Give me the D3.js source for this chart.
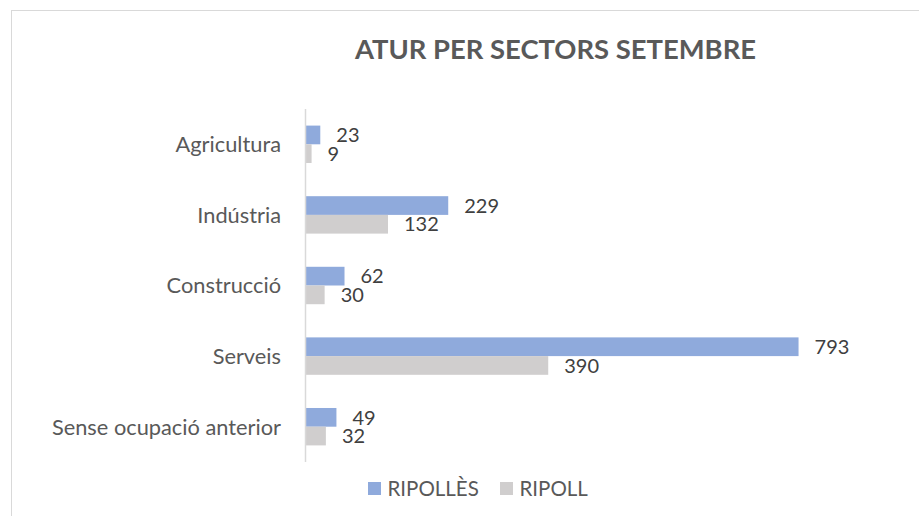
<!DOCTYPE html>
<html lang="ca">
<head>
    <meta charset="UTF-8">
    <title>Atur per sectors setembre</title>
    <style>
        body{
            margin: 0;
            background: #fff;
            font-family: Lato, "Open Sans", sans-serif;
        }
    </style>
    <script src="https://d3js.org/d3.v7.min.js"></script>
</head>
<body>
    <script>
        var sectors = ["Agricultura", "Indústria", "Construcció", "Serveis", "Sense ocupació anterior"];
        var seriesNames = ["RIPOLLÈS", "RIPOLL"];
        var ripolles = [23, 229, 62, 793, 49];
        var ripoll = [9, 132, 30, 390, 32];
        var colors = ["#8FAADC", "#D0CECE"];

        var width = 919,
            height = 516;

        var svg = d3.select("body")
            .append("svg")
            .attr("width", width)
            .attr("height", height);

        // chart frame (runs off the right and bottom edge)
        svg.append("rect")
            .attr("x", 11.5)
            .attr("y", 10.5)
            .attr("width", 1000)
            .attr("height", 600)
            .attr("fill", "#fff")
            .attr("stroke", "#D9D9D9");

        svg.append("text")
            .attr("x", 555.5)
            .attr("y", 59)
            .attr("text-anchor", "middle")
            .style("font-size", "27.4px")
            .style("font-weight", "bold")
            .style("fill", "#595959")
            .text("ATUR PER SECTORS SETEMBRE");

        var y = d3.scaleBand().domain(sectors).range([109, 462]).paddingInner(0.47).paddingOuter(0.235);
        var ySub = d3.scaleBand().domain(seriesNames).range([0, y.bandwidth()]);
        var x = d3.scaleLinear().domain([0, 900]).range([306, 865]);

        var rows = sectors.map(function(s, i) {
            return {sector: s, values: [ripolles[i], ripoll[i]]};
        });

        var groups = svg.selectAll("g.sector")
            .data(rows)
            .enter()
            .append("g")
            .attr("class", "sector")
            .attr("transform", d => "translate(0," + y(d.sector) + ")");

        groups.selectAll("rect")
            .data(d => d.values.map((v, j) => ({name: seriesNames[j], value: v, j: j})))
            .enter()
            .append("rect")
            .attr("x", x(0))
            .attr("y", d => ySub(d.name))
            .attr("width", d => x(d.value) - x(0))
            .attr("height", ySub.bandwidth())
            .attr("fill", d => colors[d.j]);

        groups.selectAll("text.val")
            .data(d => d.values.map((v, j) => ({name: seriesNames[j], value: v})))
            .enter()
            .append("text")
            .attr("class", "val")
            .attr("x", d => x(d.value) + 16)
            .attr("y", d => ySub(d.name) + ySub.bandwidth() / 2)
            .attr("dy", "0.36em")
            .style("font-size", "20px")
            .style("fill", "#404040")
            .text(d => d.value);

        // category axis
        svg.append("line")
            .attr("x1", 305.5).attr("x2", 305.5)
            .attr("y1", 109).attr("y2", 462)
            .attr("stroke", "#D9D9D9")
            .attr("stroke-width", 1.5);

        svg.selectAll("text.cat")
            .data(sectors)
            .enter()
            .append("text")
            .attr("class", "cat")
            .attr("x", 281)
            .attr("y", d => y(d) + y.bandwidth() / 2)
            .attr("dy", "0.36em")
            .attr("text-anchor", "end")
            .style("font-size", "21.8px")
            .style("fill", "#595959")
            .text(d => d);

        // legend
        var legendX = [368, 500];
        var legend = svg.selectAll("g.legend")
            .data(seriesNames)
            .enter()
            .append("g")
            .attr("class", "legend")
            .attr("transform", (d, i) => "translate(" + legendX[i] + ",482)");

        legend.append("rect")
            .attr("width", 13)
            .attr("height", 13)
            .attr("fill", (d, i) => colors[i]);

        legend.append("text")
            .attr("x", 19.5)
            .attr("y", 6.5)
            .attr("dy", "0.36em")
            .style("font-size", "20.5px")
            .style("fill", "#595959")
            .text(d => d);
    </script>
</body>
</html>
